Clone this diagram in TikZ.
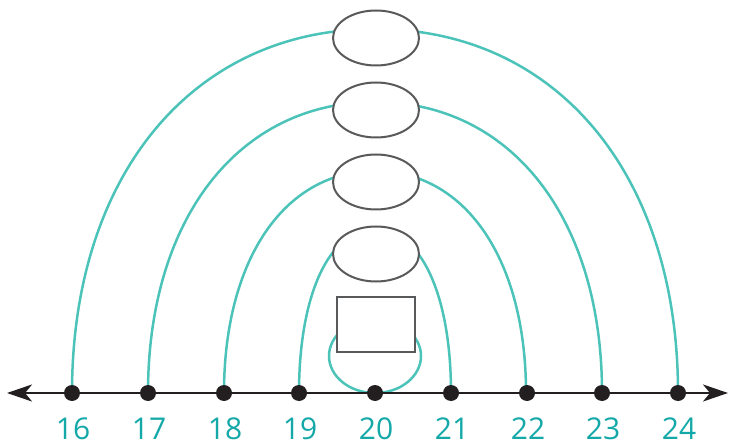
\documentclass[tikz,border=0pt]{standalone}
\usepackage{fontspec}
\setmainfont{Open Sans}
\usetikzlibrary{arrows.meta,shapes.geometric}
\definecolor{arcteal}{HTML}{4CC3B8}
\definecolor{labteal}{HTML}{14A8A8}
\definecolor{boxgray}{HTML}{58595B}
\definecolor{inkblack}{HTML}{231F20}
\tikzset{
  arcline/.style={draw=arcteal,line width=2.5pt},
  blank/.style={ellipse,draw=boxgray,fill=white,line width=2pt,minimum width=86pt,minimum height=55pt,inner sep=0pt},
  blankbox/.style={rectangle,draw=boxgray,fill=white,line width=2pt,minimum width=78pt,minimum height=55pt,inner sep=0pt},
  dotmark/.style={circle,fill=inkblack,minimum size=16pt,inner sep=0pt},
  numlab/.style={text=labteal,font=\fontsize{30}{30}\selectfont,inner sep=0pt,text depth=0pt,text height=21pt,anchor=center},
  axis/.style={draw=inkblack,line width=2.5pt,{Stealth[length=25pt,width=17pt,inset=7pt]}-{Stealth[length=25pt,width=17pt,inset=7pt]}}
}
\begin{document}
\begin{tikzpicture}[x=1pt,y=-1pt]
\useasboundingbox (0,0) rectangle (735,443);
% axis end coordinates
\coordinate (axL) at (7,393);
\coordinate (axR) at (728,393);
% arcs (drawn behind the blanks)
\foreach \xl/\xr/\top/\a in {72/678/29/303, 148/602/102/227, 224/526/171/151, 299/451/229/76}{
  \pgfmathsetmacro{\h}{393-\top}
  \draw[arcline] (\xl,393) .. controls (\xl,{393-0.6*\h}) and ({375-0.6*\a},\top) .. (375,\top)
                 .. controls ({375+0.6*\a},\top) and (\xr,{393-0.6*\h}) .. (\xr,393);
}
% loop around 20
\draw[arcline] (375,356) ellipse [x radius=46, y radius=37];
% blanks
\node[blank] (e1) at (376,38) {};
\node[blank] (e2) at (376,110) {};
\node[blank] (e3) at (376,182) {};
\node[blank] (e4) at (376,254) {};
\node[blankbox] (r) at (376,324.5) {};
% number line
\draw[axis] (axL) -- (axR);
\foreach \n/\x in {16/72,17/148,18/224,19/299,20/375,21/451,22/527,23/602,24/678}{
  \node[dotmark] (d\n) at (\x,393) {};
  \node[numlab] (l\n) at (\x+1,429) {\n};
}
\end{tikzpicture}
\end{document}
